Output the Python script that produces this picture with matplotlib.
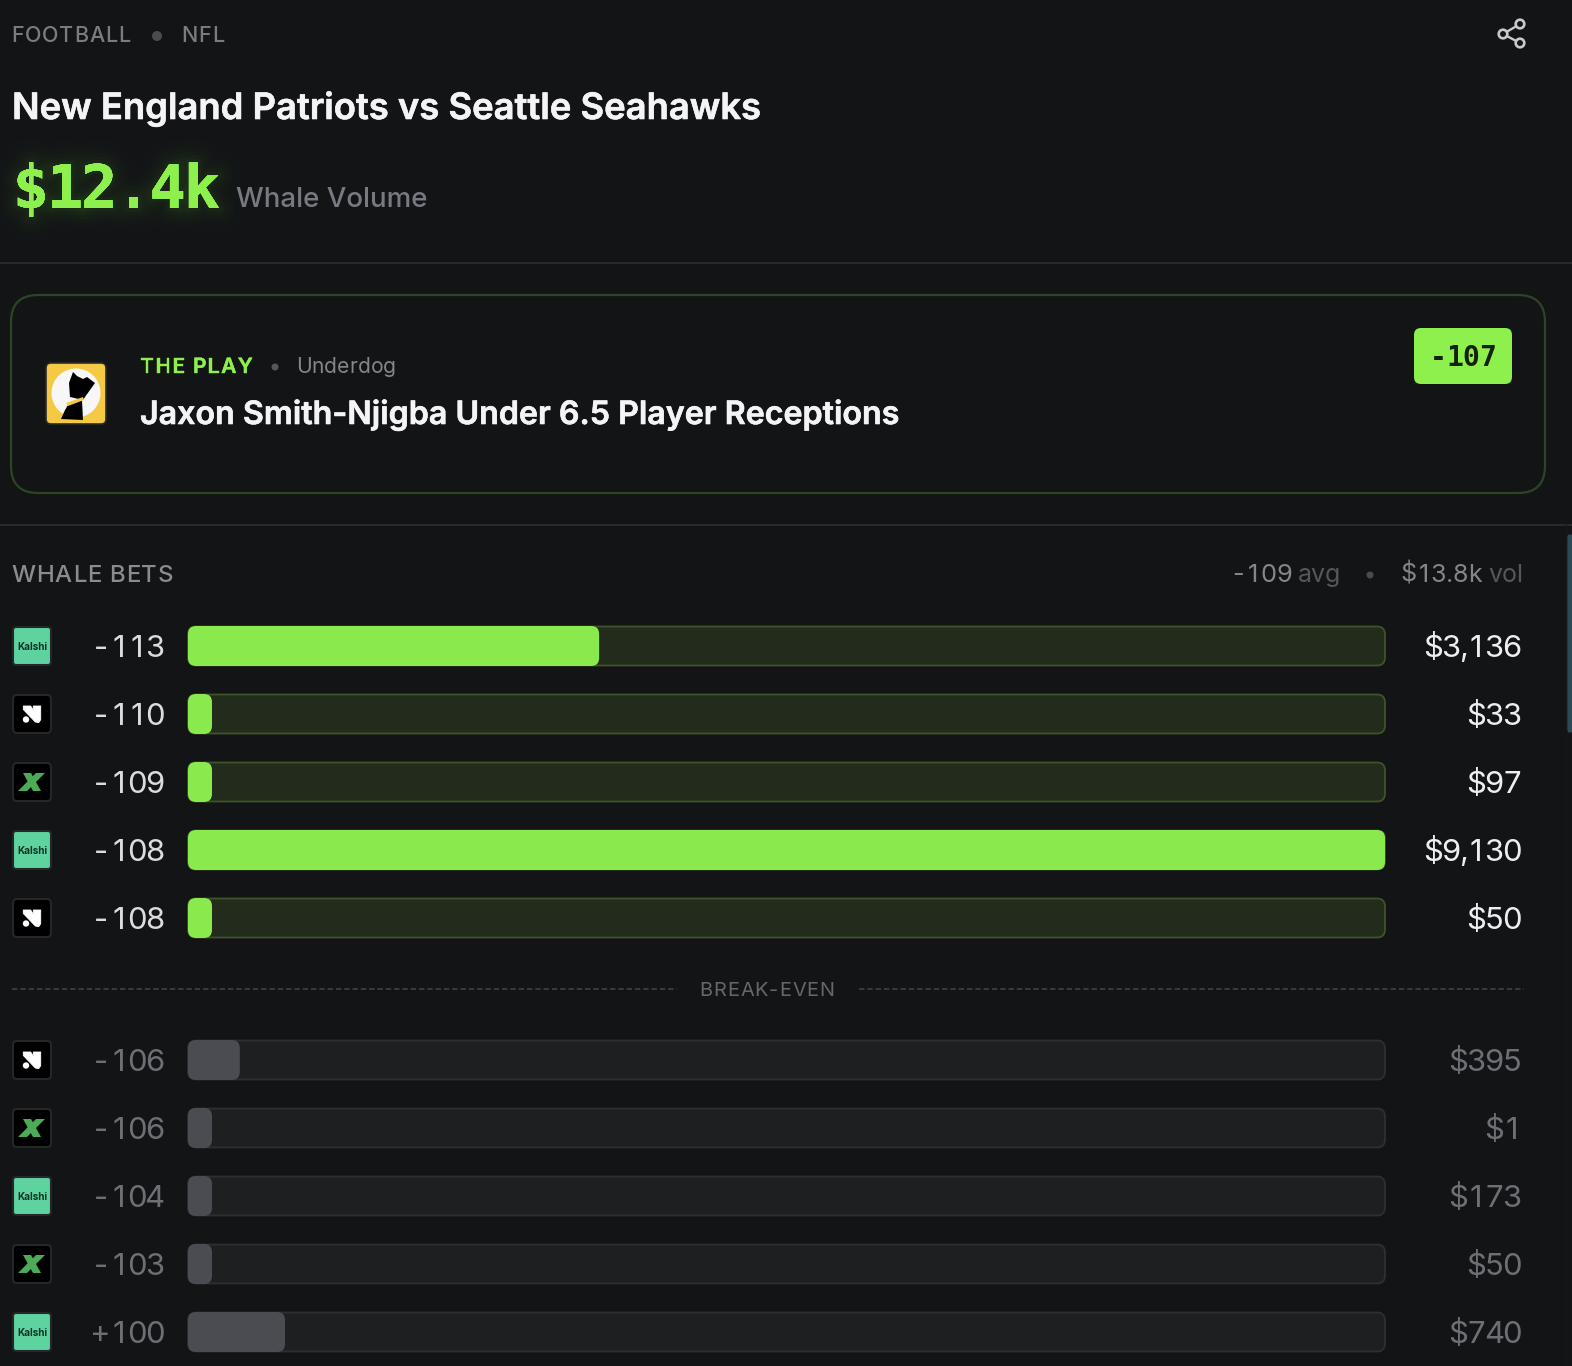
import matplotlib
matplotlib.use("Agg")
import matplotlib.pyplot as plt
from matplotlib.patches import FancyBboxPatch, Circle, Polygon
import matplotlib.patheffects as pe

# data
books = ["kalshi", "n", "x", "kalshi", "n", "n", "x", "kalshi", "x", "kalshi"]
odds = ["-113", "-110", "-109", "-108", "-108", "-106", "-106", "-104", "-103", "+100"]
amounts = [3136, 33, 97, 9130, 50, 395, 1, 173, 50, 740]
above_break_even = 5

BG = "#131416"
GREEN = "#8ae94d"
LIME = "#8ef04d"
W, H = 1572, 1366

fig = plt.figure(figsize=(W / 100, H / 100), dpi=100, facecolor=BG)
ax = fig.add_axes([0, 0, 1, 1])
ax.set_xlim(0, W)
ax.set_ylim(H, 0)
ax.axis("off")


def heavy(color, lw=0.6):
    # Inter only comes in a light-ish semibold here, thicken it a bit
    return [pe.withStroke(linewidth=lw, foreground=color)]


def txt(x, y, s, px, color, weight="normal", ha="left", family="Inter", spacing=0, **kw):
    # px is the font size in pixels, y is the baseline
    if spacing == 0:
        return ax.text(x, y, s, fontsize=px * 0.72, color=color, fontweight=weight, ha=ha,
                       va="baseline", family=family, **kw)
    # letter spaced text, one char at a time
    r = fig.canvas.get_renderer()
    def width(t):
        m = ax.text(0, 0, t, fontsize=px * 0.72, fontweight=weight, family=family)
        w = m.get_window_extent(r).width
        m.remove()
        return w
    total = width(s) + spacing * (len(s) - 1)
    x0 = x
    if ha == "right":
        x0 = x - total
    elif ha == "center":
        x0 = x - total / 2
    for i, c in enumerate(s):
        if c != " ":
            ax.text(x0 + (width(s[:i + 1]) - width(c) if i else 0) + spacing * i, y, c,
                    fontsize=px * 0.72, color=color, fontweight=weight, ha="left",
                    va="baseline", family=family, **kw)


def tab(x_right, y, s, px, color, cell, narrow=7, weight="normal", family="Inter", **kw):
    # tabular figures: every glyph centred in a fixed cell, comma and dot narrower
    x = x_right
    for c in reversed(s):
        w = narrow if c in ",." else cell
        ax.text(x - w / 2, y, c, fontsize=px * 0.72, color=color, fontweight=weight, ha="center",
                va="baseline", family=family, **kw)
        x -= w


def rbox(x0, y0, x1, y1, r, fc, ec="none", lw=0, z=2):
    p = FancyBboxPatch((x0, y0), x1 - x0, y1 - y0, boxstyle=f"round,pad=0,rounding_size={r}",
                       fc=fc, ec=ec, lw=lw, zorder=z)
    ax.add_patch(p)
    return p


def draw_book(kind, cy):
    cx = 32
    if kind == "kalshi":
        rbox(cx - 19, cy - 19, cx + 19, cy + 19, 3, "#5fd39f", "#26272a", 1.5)
        ax.text(cx, cy + 0.5, "Kalshi", fontsize=7.2, color="#0b3325", fontweight="bold",
                ha="center", va="center", family="Inter", zorder=3)
    elif kind == "n":
        rbox(cx - 19, cy - 19, cx + 19, cy + 19, 4, "#000000", "#26272a", 1.5)
        pts = [(-8.7, -8), (-1.3, -8), (1.3, -3.7), (1.3, -8), (8.7, -8), (8.7, 5.7),
               (6.7, 8.7), (3.3, 8), (-8.7, -4.5)]
        ax.add_patch(Polygon([(cx + a, cy + b) for a, b in pts], fc="white", ec="white", lw=0.6,
                             joinstyle="round", zorder=3))
        ax.add_patch(Circle((cx - 6, cy + 5.5), 3.2, fc="white", ec="none", zorder=3))
    else:
        rbox(cx - 19, cy - 19, cx + 19, cy + 19, 4, "#000000", "#26272a", 1.5)
        green = "#4cab56"
        a = [(-9, -9), (-1, -9), (9, 9), (1, 9)]
        b = [(4, -9), (13, -9), (-5, 9), (-14, 9)]
        for pts in (a, b):
            ax.add_patch(Polygon([(cx + u, cy + v) for u, v in pts], fc=green, ec="none", zorder=3))


# header
txt(11.5, 42, "FOOTBALL", 21.5, "#7b7c82", weight="medium", spacing=0.8)
ax.add_patch(Circle((157, 36), 5, fc="#4a4b50", ec="none"))
txt(181.5, 42, "NFL", 21.5, "#7b7c82", weight="medium", spacing=0.7)

# share icon
sx, sy = [1520, 1503, 1520], [24, 34, 43]
ax.plot(sx, sy, color="#c9c9c9", lw=1.7, zorder=2)
for a, b in zip(sx, sy):
    ax.add_patch(Circle((a, b), 4.3, fc=BG, ec="#c9c9c9", lw=1.9, zorder=3))

txt(12, 119, "New England Patriots vs Seattle Seahawks", 36.4, "#f4f4f6", weight="semibold",
    path_effects=heavy("#f4f4f6", 0.45))

# big number with glow
glow = [pe.withStroke(linewidth=w, foreground=LIME, alpha=a)
        for w, a in [(34, 0.006), (28, 0.008), (22, 0.01), (16, 0.014), (10, 0.02), (5, 0.03)]]
tab(219, 208, "$12.4k", 60, LIME, 34.2, narrow=34.2, weight="bold", family="DejaVu Sans Mono",
    path_effects=glow + [pe.Normal()])
txt(236, 207, "Whale Volume", 27.7, "#797a81", weight="medium")

ax.plot([0, W], [263, 263], color="#28292c", lw=1.5)
ax.plot([0, W], [525, 525], color="#28292c", lw=1.5)

# the play card
rbox(11, 295, 1545, 493, 27, BG, "#2b4526", 1.6, z=1)
rbox(46, 363, 106, 424, 5, "#f6c944", "#2b2b2b", 1.2)
ax.add_patch(Circle((76, 393), 24.5, fc="#f7f7f7", ec="none", zorder=3))
head = [(73, 372), (77, 376), (83, 379), (87, 377), (95, 383), (90, 390), (85, 397), (83, 400),
        (70, 397), (69, 383)]
body = [(68, 405), (82, 400), (83, 420), (61, 419), (65, 410)]
ax.add_patch(Polygon(head, fc="black", ec="none", zorder=4))
ax.add_patch(Polygon(body, fc="black", ec="none", zorder=4))
ax.add_patch(Polygon([(66, 403), (83, 397), (84, 400), (68, 406)], fc="#f6c944", ec="none", zorder=5))

txt(140, 373, "THE PLAY", 21, LIME, weight="semibold", spacing=1.4, path_effects=heavy(LIME, 0.3))
ax.add_patch(Circle((275, 367), 3.5, fc="#55565b", ec="none"))
txt(296, 373, "Underdog", 21, "#85868c", spacing=0.1)
txt(140, 424, "Jaxon Smith-Njigba Under 6.5 Player Receptions", 32.2, "#f4f4f6", weight="semibold",
    path_effects=heavy("#f4f4f6", 0.45))
rbox(1414, 328, 1512, 384, 7, LIME)
tab(1496, 366, "-107", 28, "#14220c", 16.6, weight="bold", family="DejaVu Sans Mono", zorder=4)

# whale bets header
txt(11.5, 582, "WHALE BETS", 24, "#8b8c92", weight="medium", spacing=0.8)
tab(1292, 582, "-109", 25.5, "#85868c", 15.4)
txt(1298, 582, "avg", 25, "#56575c")
ax.add_patch(Circle((1370, 575), 3.5, fc="#4a4b50", ec="none"))
tab(1483, 582, "$13.8k", 25, "#85868c", 15, narrow=7)
txt(1488, 582, "vol", 25, "#56575c")

# bars, width comes from the amount
TRACK_L, TRACK_R = 188, 1385
MIN_W = 24
top = max(amounts)
ys = [646, 714, 782, 850, 918, 1060, 1128, 1196, 1264, 1332]
for i, (b, o, a) in enumerate(zip(books, odds, amounts)):
    y = ys[i]
    hot = i < above_break_even
    draw_book(b, y)
    tab(163.5, y + 11, o, 31, "#dcdce0" if hot else "#6e6f75", 18)
    rbox(TRACK_L, y - 19.5, TRACK_R, y + 19.5, 8,
         "#232b1c" if hot else "#1e1f21", "#3e5429" if hot else "#2e2f33", 1.3)
    w = max(MIN_W, a / top * (TRACK_R - TRACK_L))
    rbox(TRACK_L, y - 20, TRACK_L + w, y + 20, 8, GREEN if hot else "#4b4c51", z=3)
    tab(1521, y + 11, f"${a:,}", 31, "#eeeef0" if hot else "#6e6f75", 18, narrow=7)

# break-even divider
ax.plot([12, 677], [989, 989], color="#3d3e42", lw=1.3, ls=(0, (3, 1.6)))
ax.plot([859, 1524], [989, 989], color="#3d3e42", lw=1.3, ls=(0, (3, 1.6)))
txt(767, 996, "BREAK-EVEN", 20, "#66676c", ha="center", spacing=0.9)
# scrollbar
ax.plot([1570, 1570], [537, 730], color="#2c4a55", lw=4, solid_capstyle="round")
ax.plot([1566, 1566], [525, H], color="#17181b", lw=1)

fig.savefig("out.png", dpi=100, facecolor=BG)
